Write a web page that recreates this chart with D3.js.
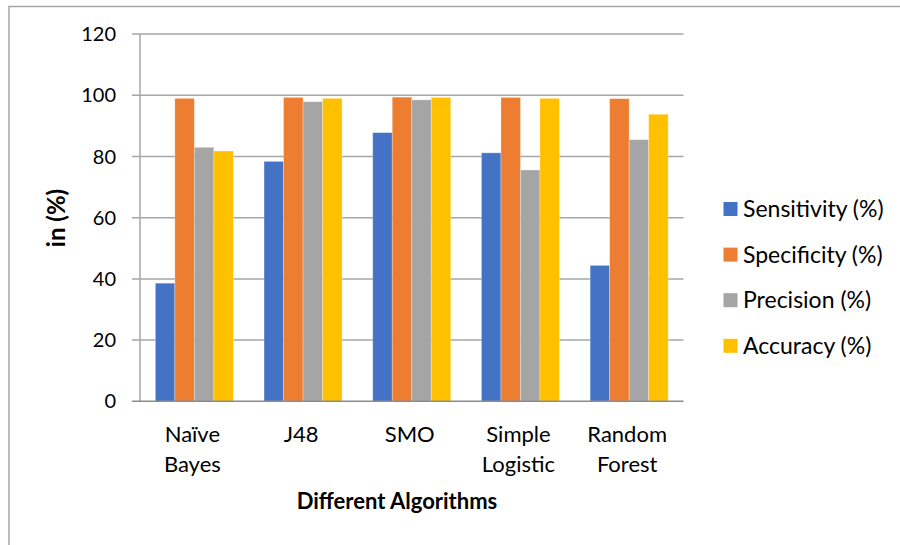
<!DOCTYPE html>
<html><head><meta charset="utf-8">
<script src="https://cdn.jsdelivr.net/npm/d3@7"></script>
<style>body{margin:0;background:#fff}svg{display:block}</style>
</head><body>
<svg id="c" width="900" height="545"></svg>
<script>
const categories = [["Naïve","Bayes"],["J48"],["SMO"],["Simple","Logistic"],["Random","Forest"]];
const seriesNames = ["Sensitivity (%)","Specificity (%)","Precision (%)","Accuracy (%)"];
const sensitivity = [38.6, 78.4, 87.8, 81.2, 44.4];
const specificity = [99.0, 99.3, 99.4, 99.3, 98.9];
const precision   = [83.0, 97.9, 98.5, 75.6, 85.5];
const accuracy    = [81.8, 99.0, 99.3, 99.0, 93.8];
const yTicks = [0,20,40,60,80,100,120];
const colors = ["#4472c4","#ed7d31","#a5a5a5","#ffc000"];
const series = [sensitivity, specificity, precision, accuracy];

const svg = d3.select("#c");
const font = "Lato, Carlito, 'Liberation Sans', sans-serif";
// frame
svg.append("rect").attr("x",9).attr("y",6.5).attr("width",1000).attr("height",1000)
  .attr("fill","none").attr("stroke","#a6a6a6").attr("stroke-width",1.5);

const L=140, R=683.5, T=34.1, B=401.3;
const catKeys = categories.map(c=>c.join(" "));
const x0 = d3.scaleBand().domain(catKeys).range([L,R]).padding(0);
const x1 = d3.scaleBand().domain(seriesNames).range([15.35, x0.bandwidth()-15.35]).padding(0);
const y = d3.scaleLinear().domain([0,120]).range([B,T]);

// gridlines
svg.append("g").selectAll("line").data(yTicks.filter(d=>d>0)).join("line")
  .attr("x1",L-8).attr("x2",R).attr("y1",d=>y(d)).attr("y2",d=>y(d))
  .attr("stroke","#a6a6a6").attr("stroke-width",1.5);
// y axis line
svg.append("line").attr("x1",L).attr("x2",L).attr("y1",T).attr("y2",B)
  .attr("stroke","#a6a6a6").attr("stroke-width",1.5);

// bars
const g = svg.append("g");
catKeys.forEach((c,i)=>{
  series.forEach((s,j)=>{
    g.append("rect")
      .attr("x", x0(c)+x1(seriesNames[j]))
      .attr("y", y(s[i]))
      .attr("width", x1.bandwidth())
      .attr("height", B - y(s[i]))
      .attr("fill", colors[j])
      .attr("stroke","#ffffff").attr("stroke-opacity",0.35).attr("stroke-width",0.8);
  });
});

// baseline
svg.append("line").attr("x1",L-8).attr("x2",R).attr("y1",B).attr("y2",B)
  .attr("stroke","#8c8c8c").attr("stroke-width",1.5);

// y tick labels
svg.append("g").selectAll("text").data(yTicks).join("text")
  .attr("x",116).attr("y",d=>y(d)).attr("dy","0.35em").attr("text-anchor","end")
  .attr("font-family",font).attr("font-size",20).attr("fill","#000").text(d=>d);

// x labels
catKeys.forEach((c,i)=>{
  const t = svg.append("text").attr("text-anchor","middle")
    .attr("font-family",font).attr("font-size",22).attr("fill","#000");
  categories[i].forEach((line,k)=>{
    t.append("tspan").attr("x", x0(c)+x0.bandwidth()/2 - 2).attr("y", 442 + k*30).text(line);
  });
});

// axis titles
svg.append("text").attr("x",397).attr("y",509).attr("text-anchor","middle")
  .attr("font-family",font).attr("font-size",22).attr("font-weight","bold").text("Different Algorithms");
svg.append("text").attr("transform","translate(65,218) rotate(-90)").attr("text-anchor","middle")
  .attr("font-family",font).attr("font-size",24).attr("font-weight","bold").text("in (%)");

// legend
const lg = svg.append("g");
seriesNames.forEach((n,j)=>{
  const cy = 209 + j*45.6;
  lg.append("rect").attr("x",723.5).attr("y",cy-7).attr("width",14).attr("height",14).attr("fill",colors[j]);
  lg.append("text").attr("x",743).attr("y",cy).attr("dy","0.35em")
    .attr("font-family",font).attr("font-size",23).attr("fill","#000").text(n);
});
</script>
</body></html>
